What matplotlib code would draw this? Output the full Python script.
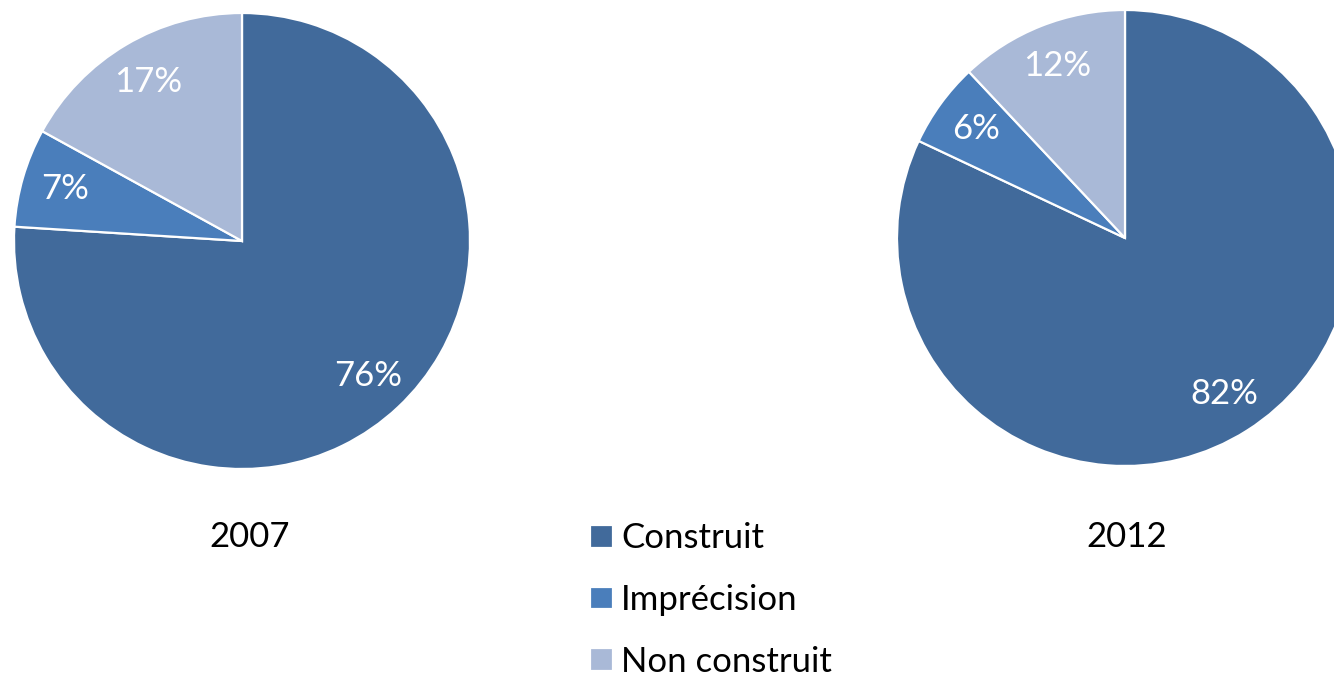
import matplotlib.pyplot as plt

plt.rcParams['font.family'] = ['Lato', 'DejaVu Sans']

categories = ["Construit", "Imprécision", "Non construit"]
years = ["2007", "2012"]
values_2007 = [76, 7, 17]
values_2012 = [82, 6, 12]
colors = ["#416A9B", "#4A7EBB", "#A9B9D7"]

W, H = 1334, 680
fig = plt.figure(figsize=(W / 100, H / 100), dpi=100)


def pie_axes(cx, cy, r):
    # pixel centre / radius -> figure fractions
    ax = fig.add_axes([(cx - r) / W, (H - cy - r) / H, 2 * r / W, 2 * r / H])
    return ax


def draw_pie(ax, values):
    wedges, texts, autotexts = ax.pie(
        values, colors=colors, startangle=90, counterclock=False,
        autopct="%d%%", pctdistance=0.81, radius=1,
        wedgeprops=dict(edgecolor="white", linewidth=1.6),
        textprops=dict(color="white", fontsize=25))
    ax.set_xlim(-1, 1)
    ax.set_ylim(-1, 1)
    ax.set_aspect("equal")
    ax.axis("off")
    return wedges


ax1 = pie_axes(242, 241, 228)
wedges = draw_pie(ax1, values_2007)
ax2 = pie_axes(1125, 238, 228)
draw_pie(ax2, values_2012)

fig.text(250 / W, 1 - 537 / H, years[0], ha="center", va="center", fontsize=25)
fig.text(1127 / W, 1 - 537 / H, years[1], ha="center", va="center", fontsize=25)

fig.legend(wedges, categories, loc="upper left",
           bbox_to_anchor=(573 / W, 1 - 505 / H), frameon=False,
           fontsize=25, handlelength=0.64, handleheight=0.64,
           handletextpad=0.24, labelspacing=0.86, borderpad=0)

fig.savefig("out.png", dpi=100)
